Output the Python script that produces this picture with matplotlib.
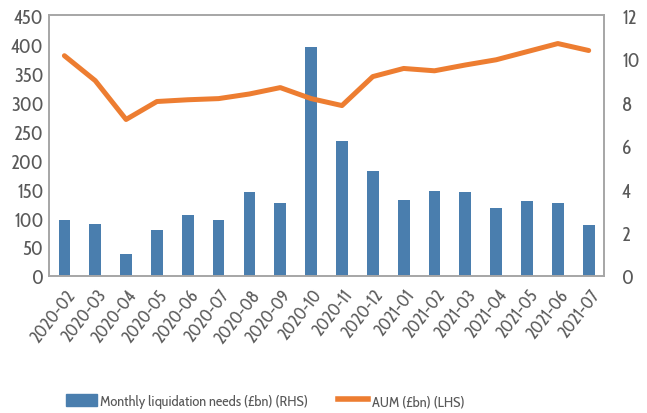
import matplotlib.pyplot as plt
from matplotlib.patches import Patch
from matplotlib.lines import Line2D

# data
months = ['2020-02', '2020-03', '2020-04', '2020-05', '2020-06', '2020-07',
          '2020-08', '2020-09', '2020-10', '2020-11', '2020-12', '2021-01',
          '2021-02', '2021-03', '2021-04', '2021-05', '2021-06', '2021-07']
liquidation = [2.56, 2.38, 1.03, 2.13, 2.82, 2.56, 3.85, 3.37, 10.54, 6.20,
               4.84, 3.49, 3.92, 3.86, 3.15, 3.43, 3.38, 2.34]
aum = [380, 337, 270, 301, 304, 306, 314, 325, 306, 294,
       344, 358, 354, 364, 373, 387, 401, 389]

plt.rcParams['font.family'] = ['Cabin Condensed', 'DejaVu Sans']
grey = '#595959'
bar_col = '#4a7eae'
line_col = '#ed7d31'

fig = plt.figure(figsize=(6.47, 4.14), dpi=100)
ax = fig.add_axes([0.0757, 0.331, 0.858, 0.630])
ax2 = ax.twinx()

x = list(range(len(months)))
ax2.bar(x, liquidation, width=0.38, color=bar_col)
ax.plot(x, aum, color=line_col, linewidth=3.6, solid_capstyle='round')

# keep the line above the bars
ax.set_zorder(ax2.get_zorder() + 1)
ax.patch.set_visible(False)

ax.set_xlim(-0.5, len(months) - 0.5)
ax.set_ylim(0, 450)
ax.set_yticks(range(0, 451, 50))
ax2.set_ylim(0, 12)
ax2.set_yticks(range(0, 13, 2))

ax.set_xticks(x)
ax.set_xticklabels(months, rotation=52, ha='right', rotation_mode='anchor')

for a in (ax, ax2):
    a.tick_params(length=0, labelsize=14, colors=grey)
    for s in a.spines.values():
        s.set_color('#a6a6a6')
        s.set_linewidth(1.2)
ax.tick_params(axis='x', labelsize=12.5, pad=7)
ax.tick_params(axis='y', pad=4)
ax2.tick_params(axis='y', pad=13)

handles = [Patch(color=bar_col), Line2D([0], [0], color=line_col, linewidth=4)]
labels = ['Monthly liquidation needs (£bn) (RHS)', 'AUM (£bn) (LHS)']
fig.legend(handles, labels, loc='center', bbox_to_anchor=(0.41, 0.029), ncol=2,
           frameon=False, fontsize=10.5, labelcolor=grey, handlelength=2.1,
           handleheight=0.9, handletextpad=0.25, columnspacing=2.0)

fig.savefig('out.png', dpi=100)
